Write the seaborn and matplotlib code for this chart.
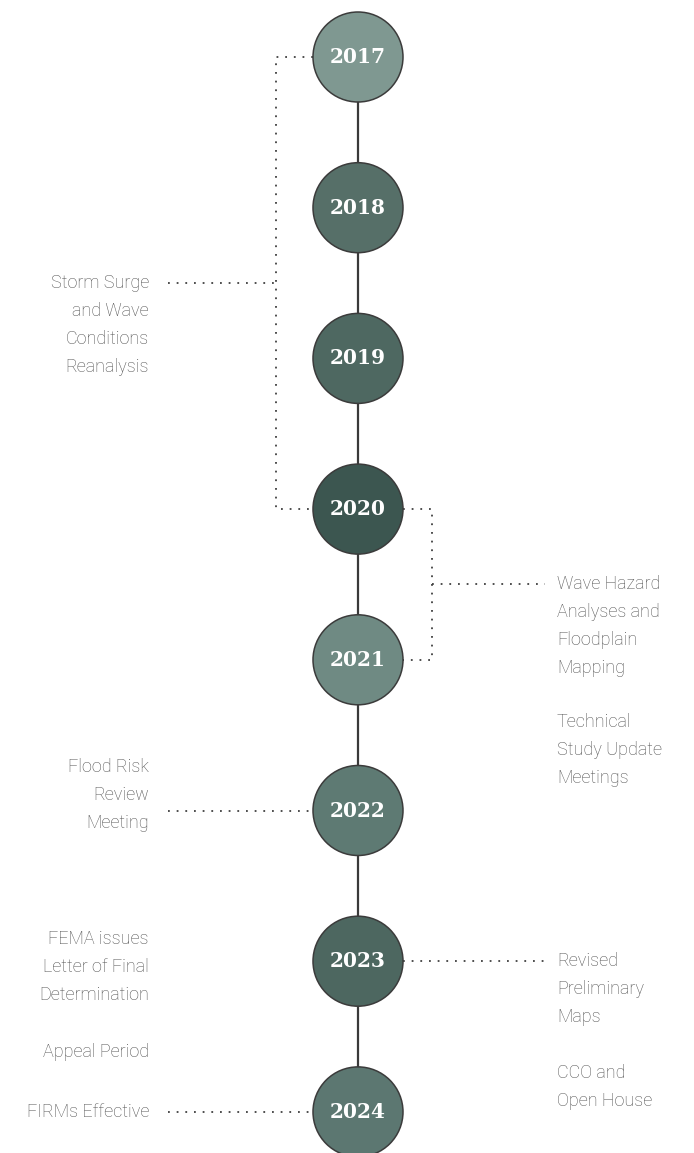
import numpy as np
import pandas as pd
import seaborn as sns
import matplotlib.pyplot as plt

# Timeline milestones
years = [2017, 2018, 2019, 2020, 2021, 2022, 2023, 2024]
circle_colors = ['#7f9891', '#566f68', '#4e6861', '#3c5650',
                 '#6f8a83', '#5e7a73', '#4d6760', '#5c7771']

# Left-side events (label lines, anchor year of the first line, has connector)
left_labels = [
    ["Storm Surge", "and Wave", "Conditions", "Reanalysis"],
    ["Flood Risk", "Review", "Meeting"],
    ["FEMA issues", "Letter of Final", "Determination"],
    ["Appeal Period"],
    ["FIRMs Effective"],
]
left_first_line = [2018.5, 2021.71, 2022.85, 2023.6, 2024.0]
left_connector = [2018.5, 2022.0, None, None, 2024.0]

# Right-side events
right_labels = [
    ["Wave Hazard", "Analyses and", "Floodplain", "Mapping"],
    ["Technical", "Study Update", "Meetings"],
    ["Revised", "Preliminary", "Maps"],
    ["CCO and", "Open House"],
]
right_first_line = [2020.5, 2021.41, 2023.0, 2023.74]
right_connector = [2020.5, None, 2023.0, None]

# Brackets: (start year, end year) joining circles
left_bracket = (2017, 2020)
right_bracket = (2020, 2021)

sns.set_style("white")
plt.rcParams['font.family'] = ['Roboto', 'DejaVu Sans']

fig = plt.figure(figsize=(6.94, 11.53), dpi=100)
ax = fig.add_axes([0, 0, 1, 1])

px_per_year = 150.7
y_top = 2017 - 57 / px_per_year
y_bot = 2017 + (1153 - 57) / px_per_year
ax.set_xlim(0, 694)
ax.set_ylim(y_bot, y_top)
ax.axis('off')

cx = 358
r = 45
line_step = 28 / px_per_year
dot_style = dict(color='#404040', lw=1.3, linestyle=(0, (1, 3.8)))
text_color = '#505050'

df = pd.DataFrame({'x': [cx] * len(years), 'year': years})

# spine line
sns.lineplot(data=df, x='x', y='year', color='#3a3a3a', linewidth=1.6,
             sort=False, orient='y', estimator=None, ax=ax, zorder=1)

# circles
size_pt = 2 * r * 72 / fig.dpi
sns.scatterplot(data=df, x='x', y='year', hue='year', palette=circle_colors,
                s=size_pt ** 2, edgecolor='#3b3b3b', linewidth=1.1,
                legend=False, ax=ax, zorder=3)

for yr in years:
    ax.text(cx, yr, str(yr), ha='center', va='center', color='white',
            fontsize=14.5, fontweight='bold', family='DejaVu Serif', zorder=4)

# brackets
lx = 276
ax.plot([cx - r, lx, lx, cx - r],
        [left_bracket[0], left_bracket[0], left_bracket[1], left_bracket[1]],
        zorder=2, **dot_style)
rx = 432
ax.plot([cx + r, rx, rx, cx + r],
        [right_bracket[0], right_bracket[0], right_bracket[1], right_bracket[1]],
        zorder=2, **dot_style)

# left labels
for lines, y0, conn in zip(left_labels, left_first_line, left_connector):
    for i, s in enumerate(lines):
        ax.text(149, y0 + i * line_step, s, ha='right', va='center',
                fontsize=13, fontweight='light', color=text_color)
    if conn is not None:
        x_end = lx if conn == 2018.5 else cx - r
        ax.plot([168, x_end], [conn, conn], zorder=2, **dot_style)

# right labels
for lines, y0, conn in zip(right_labels, right_first_line, right_connector):
    for i, s in enumerate(lines):
        ax.text(557, y0 + i * line_step, s, ha='left', va='center',
                fontsize=13, fontweight='light', color=text_color)
    if conn is not None:
        x_start = rx if conn == 2020.5 else cx + r
        ax.plot([x_start, 545], [conn, conn], zorder=2, **dot_style)

fig.savefig('out.png', dpi=100, facecolor='white')
